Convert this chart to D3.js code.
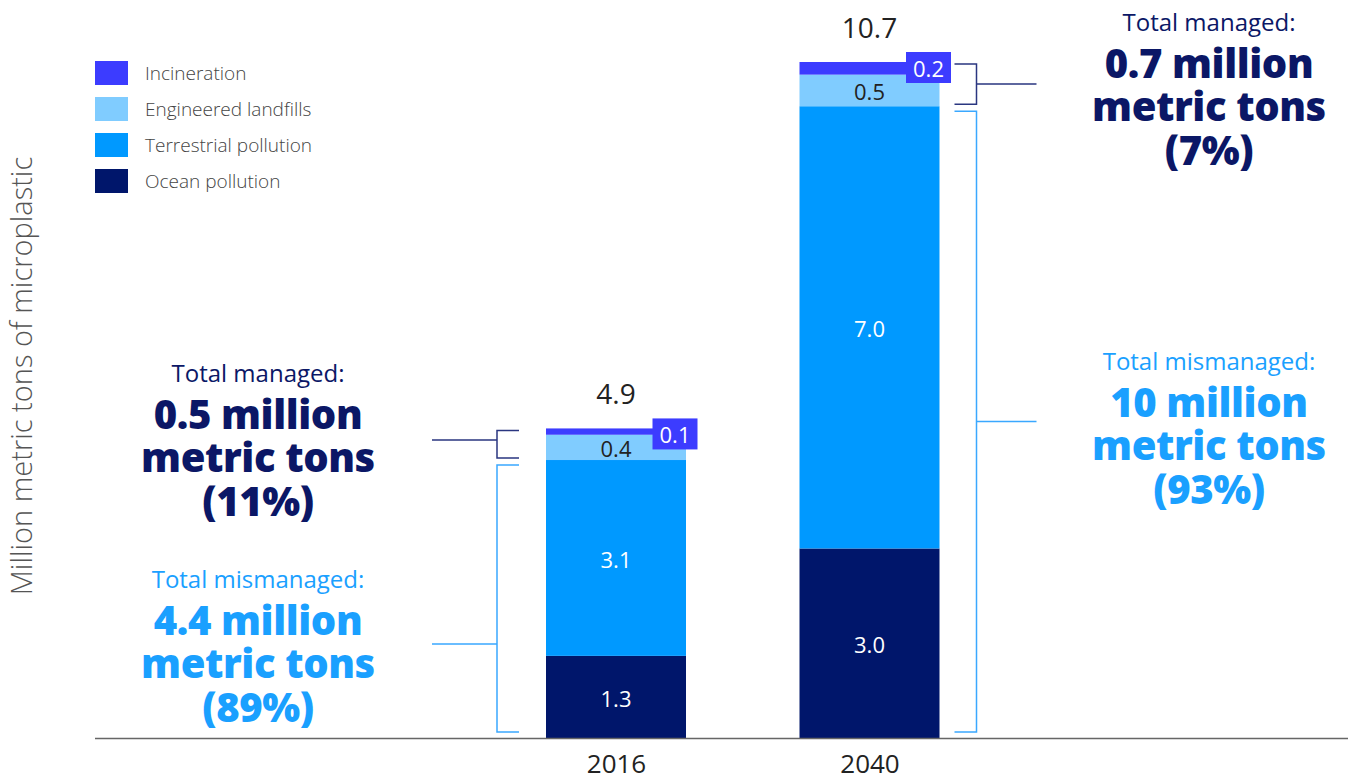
<!DOCTYPE html>
<html><head><meta charset="utf-8">
<script src="https://cdn.jsdelivr.net/npm/d3@7"></script>
<style>body{margin:0;background:#fff}svg{display:block}</style>
</head><body><svg id="c" width="1354" height="780"></svg>
<script>
const years = ["2016", "2040"];
const seriesNames = ["Ocean pollution", "Terrestrial pollution", "Engineered landfills", "Incineration"];
const ocean = [1.3, 3.0];
const terrestrial = [3.1, 7.0];
const landfills = [0.4, 0.5];
const incineration = [0.1, 0.2];
const totals = [4.9, 10.7];
const managedText = [["Total managed:", "0.5 million", "metric tons", "(11%)"], ["Total managed:", "0.7 million", "metric tons", "(7%)"]];
const mismanagedText = [["Total  mismanaged:", "4.4 million", "metric tons", "(89%)"], ["Total mismanaged:", "10 million", "metric tons", "(93%)"]];

const colors = {"Ocean pollution":"#00166b","Terrestrial pollution":"#0099ff","Engineered landfills":"#80ccff","Incineration":"#3c3cff"};
const navy = "#0b1766", lightBlue = "#1aa0ff";
const FONT = "'Open Sans', Lato, sans-serif";

const svg = d3.select("#c");
const y = d3.scaleLinear().domain([0, 10.7]).range([738, 62]);
const x = d3.scalePoint().domain(years).range([616, 869.5]);
const bw = 140;

const rows = years.map((yr, i) => ({year: yr, "Ocean pollution": ocean[i], "Terrestrial pollution": terrestrial[i], "Engineered landfills": landfills[i], "Incineration": incineration[i]}));
const stack = d3.stack().keys(seriesNames)(rows);

// bars
const g = svg.append("g");
stack.forEach(layer => {
  g.selectAll(null).data(layer).enter().append("rect")
    .attr("x", d => x(d.data.year) - bw/2)
    .attr("width", bw)
    .attr("y", d => y(d[1]))
    .attr("height", d => y(d[0]) - y(d[1]))
    .attr("fill", colors[layer.key]);
});

// segment labels
const labelStyle = (sel) => sel.attr("font-family", FONT).attr("font-size", 22).attr("text-anchor", "middle").attr("dominant-baseline", "central");
stack.forEach(layer => {
  layer.forEach(d => {
    const v = d[1] - d[0];
    const cx = x(d.data.year);
    if (layer.key === "Incineration") {
      const bx = cx + bw/2 - 11;
      const top = y(d[1]) - 10;
      g.append("rect").attr("x", bx - 22.5).attr("y", top).attr("width", 45).attr("height", 31).attr("fill", colors.Incineration);
      g.append("text").call(labelStyle).attr("x", bx).attr("y", top + 16).attr("fill", "#fff").text(v.toFixed(1));
    } else {
      g.append("text").call(labelStyle)
        .attr("x", cx).attr("y", (y(d[0]) + y(d[1]))/2 + 1)
        .attr("fill", layer.key === "Engineered landfills" ? "#222" : "#fff")
        .text(v.toFixed(1));
    }
  });
});

// totals
years.forEach((yr, i) => {
  svg.append("text").attr("x", x(yr)).attr("y", y(totals[i]) - 35)
    .attr("font-family", FONT).attr("font-size", 28).attr("fill", "#222")
    .attr("text-anchor", "middle").attr("dominant-baseline", "central").text(totals[i].toFixed(1));
});

// axis
const xAxis = d3.axisBottom(x).tickSize(0).tickPadding(17);
const ax = svg.append("g").attr("transform", "translate(0,738)").call(xAxis);
ax.select(".domain").remove();
ax.selectAll("text").attr("font-family", FONT).attr("font-size", 26).attr("fill", "#222");
svg.append("line").attr("x1", 95).attr("x2", 1348).attr("y1", 738.5).attr("y2", 738.5).attr("stroke", "#666").attr("stroke-width", 1.5);

// y-axis title
svg.append("text").attr("transform", "translate(32,376) rotate(-90)")
  .attr("font-family", FONT).attr("font-weight", 300).attr("font-size", 29).attr("fill", "#555")
  .attr("text-anchor", "middle").text("Million metric tons of microplastic");

// legend
const legendOrder = ["Incineration", "Engineered landfills", "Terrestrial pollution", "Ocean pollution"];
legendOrder.forEach((k, i) => {
  const ly = 61 + i * 36;
  svg.append("rect").attr("x", 95).attr("y", ly).attr("width", 33).attr("height", 24).attr("fill", colors[k]);
  svg.append("text").attr("x", 145).attr("y", ly + 12).attr("dominant-baseline", "central")
    .attr("font-family", FONT).attr("font-weight", 300).attr("font-size", 19).attr("fill", "#444").text(k);
});

// brackets
function bracket(top, bot, side, barX, color, frac, leadLen) {
  const tickIn = side < 0 ? barX - 27 : barX + 15;
  const vx = side < 0 ? barX - 49 : barX + 37;
  const ly = top + (bot - top) * frac;
  const p = d3.path();
  p.moveTo(tickIn, top); p.lineTo(vx, top); p.lineTo(vx, bot); p.lineTo(tickIn, bot);
  p.moveTo(vx, ly); p.lineTo(vx + side * leadLen, ly);
  svg.append("path").attr("d", p.toString()).attr("fill", "none").attr("stroke", color).attr("stroke-width", 1.5);
}
years.forEach((yr, i) => {
  const side = i === 0 ? -1 : 1;
  const barEdge = side < 0 ? x(yr) - bw/2 : x(yr) + bw/2;
  const mis = ocean[i] + terrestrial[i];
  bracket(y(totals[i]) + 2, y(mis) - 2, side, barEdge, "#2a3680", i === 0 ? 0.35 : 0.5, side < 0 ? 65 : 60);
  bracket(y(mis) + 5, 732, side, barEdge, "#3aa8ff", i === 0 ? 0.67 : 0.5, side < 0 ? 65 : 60);
});

// annotation texts
function block(lines, cx, y0, color) {
  const t = svg.append("g").attr("fill", color).attr("font-family", FONT).attr("text-anchor", "middle");
  t.append("text").attr("x", cx).attr("y", y0).attr("dominant-baseline", "central").attr("font-size", 24).text(lines[0]);
  lines.slice(1).forEach((l, j) => {
    t.append("text").attr("x", cx).attr("y", y0 + 41 + j * 43.5).attr("dominant-baseline", "central")
      .attr("font-size", 40).attr("font-weight", 800).attr("letter-spacing", -0.4).text(l);
  });
}
block(managedText[0], 258, 372, navy);
block(mismanagedText[0], 258, 578, lightBlue);
block(managedText[1], 1209, 21, navy);
block(mismanagedText[1], 1209, 360, lightBlue);
</script></body></html>
